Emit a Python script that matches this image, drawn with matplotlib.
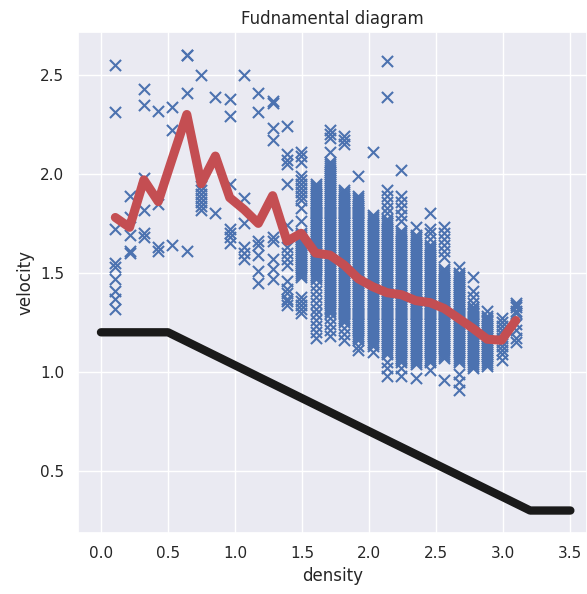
import matplotlib
matplotlib.use("Agg")
import matplotlib.pyplot as plt
import seaborn as sns

# --- datos ---
densidades = [0.107, 0.213, 0.320, 0.427, 0.533, 0.640, 0.747, 0.853, 0.960, 1.067,
              1.173, 1.280, 1.387, 1.493, 1.600, 1.707, 1.813, 1.920, 2.027, 2.133,
              2.240, 2.347, 2.453, 2.560, 2.667, 2.773, 2.880, 2.987, 3.093]

velocidad_media = [1.78, 1.73, 1.97, 1.86, 2.08, 2.30, 1.95, 2.09, 1.88, 1.82,
                   1.75, 1.89, 1.66, 1.70, 1.60, 1.59, 1.54, 1.47, 1.43, 1.40,
                   1.39, 1.36, 1.35, 1.32, 1.27, 1.22, 1.165, 1.16, 1.26]

# velocidades observadas por columna de densidad
v01 = [2.55, 2.31, 1.72, 1.55, 1.53, 1.47, 1.41, 1.37, 1.32]
v02 = [1.89, 1.78, 1.69, 1.61, 1.60]
v03 = [2.43, 2.35, 1.98, 1.82, 1.70, 1.68]
v04 = [2.32, 1.85, 1.63, 1.61]
v05 = [2.34, 2.22, 1.64]
v06 = [2.60, 2.60, 2.41, 1.61]
v07 = [2.50, 1.94, 1.92, 1.90, 1.88, 1.86, 1.84, 1.82]
v08 = [2.39, 1.80]
v09 = [2.38, 2.29, 1.95, 1.72, 1.70, 1.68, 1.65]
v10 = [2.50, 1.88, 1.75, 1.63, 1.60, 1.57]
v11 = [2.41, 2.31, 1.66, 1.64, 1.59, 1.51, 1.45]
v12 = [2.37, 2.36, 2.23, 2.17, 1.68, 1.66, 1.57, 1.52, 1.47]
v13 = [2.24, 2.10, 2.07, 2.05, 1.95, 1.74, 1.63, 1.60, 1.57, 1.54, 1.46, 1.42,
       1.40, 1.37, 1.36, 1.34]
v14 = [2.11, 2.09, 2.06, 1.99, 1.97, 1.95, 1.93, 1.91, 1.89, 1.87, 1.83, 1.76,
       1.70, 1.69, 1.68, 1.67, 1.66, 1.65, 1.64, 1.63, 1.62, 1.61, 1.60, 1.59,
       1.58, 1.57, 1.56, 1.55, 1.54, 1.53, 1.52, 1.51, 1.50, 1.49, 1.48,
       1.38, 1.36, 1.34, 1.32, 1.30]
v15 = [1.95, 1.94, 1.93, 1.92, 1.91, 1.90, 1.89, 1.88, 1.87, 1.86, 1.85, 1.84,
       1.83, 1.82, 1.81, 1.80, 1.79, 1.78, 1.77, 1.76, 1.75, 1.74, 1.73, 1.72,
       1.71, 1.70, 1.69, 1.68, 1.67, 1.66, 1.65, 1.64, 1.63, 1.62, 1.61, 1.60,
       1.59, 1.58, 1.57, 1.56, 1.55, 1.54, 1.53, 1.52, 1.51, 1.50, 1.49, 1.48,
       1.47, 1.44, 1.41, 1.38, 1.35, 1.32, 1.29, 1.26, 1.23, 1.20, 1.17]
v16 = [2.22, 2.20, 2.18, 2.11,
       2.06, 2.05, 2.04, 2.03, 2.02, 2.01, 2.00,
       1.99, 1.98, 1.97, 1.96, 1.95, 1.94, 1.93, 1.92, 1.91, 1.90,
       1.89, 1.88, 1.87, 1.86, 1.85, 1.84, 1.83, 1.82, 1.81, 1.80,
       1.79, 1.78, 1.77, 1.76, 1.75, 1.74, 1.73, 1.72, 1.71, 1.70,
       1.69, 1.68, 1.67, 1.66, 1.65, 1.64, 1.63, 1.62, 1.61, 1.60,
       1.59, 1.58, 1.57, 1.56, 1.55, 1.54, 1.53, 1.52, 1.51, 1.50,
       1.49, 1.48, 1.47, 1.46, 1.45, 1.44, 1.43, 1.42, 1.41, 1.40,
       1.39, 1.38, 1.37, 1.36, 1.35, 1.34, 1.33, 1.32, 1.31, 1.30,
       1.27, 1.24, 1.21, 1.18]
v17 = [2.19, 2.17, 2.15,
       1.92, 1.91, 1.90,
       1.89, 1.88, 1.87, 1.86, 1.85, 1.84, 1.83, 1.82, 1.81, 1.80,
       1.79, 1.78, 1.77, 1.76, 1.75, 1.74, 1.73, 1.72, 1.71, 1.70,
       1.69, 1.68, 1.67, 1.66, 1.65, 1.64, 1.63, 1.62, 1.61, 1.60,
       1.59, 1.58, 1.57, 1.56, 1.55, 1.54, 1.53, 1.52, 1.51, 1.50,
       1.49, 1.48, 1.47, 1.46, 1.45, 1.44, 1.43, 1.42, 1.41, 1.40,
       1.39, 1.38, 1.37, 1.36, 1.35, 1.34, 1.33, 1.32, 1.31, 1.30,
       1.29, 1.28, 1.27, 1.26, 1.25,
       1.22, 1.19, 1.16]
v18 = [1.99,
       1.89, 1.88, 1.87, 1.86, 1.85, 1.84, 1.83, 1.82, 1.81, 1.80,
       1.79, 1.78, 1.77, 1.76, 1.75, 1.74, 1.73, 1.72, 1.71, 1.70,
       1.69, 1.68, 1.67, 1.66, 1.65, 1.64, 1.63, 1.62, 1.61, 1.60,
       1.59, 1.58, 1.57, 1.56, 1.55, 1.54, 1.53, 1.52, 1.51, 1.50,
       1.49, 1.48, 1.47, 1.46, 1.45, 1.44, 1.43, 1.42, 1.41, 1.40,
       1.39, 1.38, 1.37, 1.36, 1.35, 1.34, 1.33, 1.32, 1.31, 1.30,
       1.29, 1.28, 1.27, 1.26, 1.25, 1.24, 1.23, 1.22, 1.21, 1.20,
       1.19, 1.18, 1.17, 1.16,
       1.13, 1.11]
v19 = [2.11,
       1.79, 1.78, 1.77, 1.76, 1.75, 1.74, 1.73, 1.72, 1.71, 1.70,
       1.69, 1.68, 1.67, 1.66, 1.65, 1.64, 1.63, 1.62, 1.61, 1.60,
       1.59, 1.58, 1.57, 1.56, 1.55, 1.54, 1.53, 1.52, 1.51, 1.50,
       1.49, 1.48, 1.47, 1.46, 1.45, 1.44, 1.43, 1.42, 1.41, 1.40,
       1.39, 1.38, 1.37, 1.36, 1.35, 1.34, 1.33, 1.32, 1.31, 1.30,
       1.29, 1.28, 1.27, 1.26, 1.25, 1.24, 1.23, 1.22, 1.21, 1.20,
       1.19, 1.18, 1.17, 1.16, 1.15, 1.14, 1.13,
       1.10]
v20 = [2.57, 2.39, 1.92, 1.89, 1.86, 1.83, 1.80,
       1.77, 1.76, 1.75, 1.74, 1.73, 1.72, 1.71, 1.70,
       1.69, 1.68, 1.67, 1.66, 1.65, 1.64, 1.63, 1.62, 1.61, 1.60,
       1.59, 1.58, 1.57, 1.56, 1.55, 1.54, 1.53, 1.52, 1.51, 1.50,
       1.49, 1.48, 1.47, 1.46, 1.45, 1.44, 1.43, 1.42, 1.41, 1.40,
       1.39, 1.38, 1.37, 1.36, 1.35, 1.34, 1.33, 1.32, 1.31, 1.30,
       1.29, 1.28, 1.27, 1.26, 1.25, 1.24, 1.23, 1.22, 1.21, 1.20,
       1.19, 1.18, 1.17, 1.16, 1.15, 1.14, 1.13, 1.12, 1.11, 1.10,
       1.09, 1.05, 1.02, 0.98]
v21 = [2.02, 1.89, 1.86, 1.83, 1.79, 1.76,
       1.71, 1.70,
       1.69, 1.68, 1.67, 1.66, 1.65, 1.64, 1.63, 1.62, 1.61, 1.60,
       1.59, 1.58, 1.57, 1.56, 1.55, 1.54, 1.53, 1.52, 1.51, 1.50,
       1.49, 1.48, 1.47, 1.46, 1.45, 1.44, 1.43, 1.42, 1.41, 1.40,
       1.39, 1.38, 1.37, 1.36, 1.35, 1.34, 1.33, 1.32, 1.31, 1.30,
       1.29, 1.28, 1.27, 1.26, 1.25, 1.24, 1.23, 1.22, 1.21, 1.20,
       1.19, 1.18, 1.17, 1.16, 1.15, 1.14, 1.13, 1.12, 1.11, 1.10,
       1.09, 1.08, 1.07, 1.06, 1.05,
       1.02, 0.98]
v22 = [1.73,
       1.69, 1.68, 1.67, 1.66, 1.65, 1.64, 1.63, 1.62, 1.61, 1.60,
       1.59, 1.58, 1.57, 1.56, 1.55, 1.54, 1.53, 1.52, 1.51, 1.50,
       1.49, 1.48, 1.47, 1.46, 1.45, 1.44, 1.43, 1.42, 1.41, 1.40,
       1.39, 1.38, 1.37, 1.36, 1.35, 1.34, 1.33, 1.32, 1.31, 1.30,
       1.29, 1.28, 1.27, 1.26, 1.25, 1.24, 1.23, 1.22, 1.21, 1.20,
       1.19, 1.18, 1.17, 1.16, 1.15, 1.14, 1.13, 1.12, 1.11, 1.10,
       1.09, 1.08, 1.07, 1.06, 1.05, 1.04,
       0.97]
v23 = [1.80, 1.72, 1.70, 1.67,
       1.64, 1.63, 1.62, 1.61, 1.60,
       1.59, 1.58, 1.57, 1.56, 1.55, 1.54, 1.53, 1.52, 1.51, 1.50,
       1.49, 1.48, 1.47, 1.46, 1.45, 1.44, 1.43, 1.42, 1.41, 1.40,
       1.39, 1.38, 1.37, 1.36, 1.35, 1.34, 1.33, 1.32, 1.31, 1.30,
       1.29, 1.28, 1.27, 1.26, 1.25, 1.24, 1.23, 1.22, 1.21, 1.20,
       1.19, 1.18, 1.17, 1.16, 1.15, 1.14, 1.13, 1.12, 1.11, 1.10,
       1.09, 1.08, 1.07, 1.06, 1.05,
       1.01]
v24 = [1.73, 1.70, 1.67, 1.64, 1.61, 1.58,
       1.52, 1.51, 1.50,
       1.49, 1.48, 1.47, 1.46, 1.45, 1.44, 1.43, 1.42, 1.41, 1.40,
       1.39, 1.38, 1.37, 1.36, 1.35, 1.34, 1.33, 1.32, 1.31, 1.30,
       1.29, 1.28, 1.27, 1.26, 1.25, 1.24, 1.23, 1.22, 1.21, 1.20,
       1.19, 1.18, 1.17, 1.16, 1.15, 1.14, 1.13, 1.12, 1.11, 1.10,
       1.09, 1.08, 1.07,
       0.96]
v25 = [1.53,
       1.50,
       1.49, 1.48, 1.47, 1.46, 1.45, 1.44, 1.43, 1.42, 1.41, 1.40,
       1.39, 1.38, 1.37, 1.36, 1.35, 1.34, 1.33, 1.32, 1.31, 1.30,
       1.29, 1.28, 1.27, 1.26, 1.25, 1.24, 1.23, 1.22, 1.21, 1.20,
       1.19, 1.18, 1.17, 1.16, 1.15, 1.14, 1.13, 1.12, 1.11, 1.10,
       1.09, 1.08, 1.07, 1.06, 1.05,
       0.99, 0.95, 0.91]
v26 = [1.48, 1.41, 1.38, 1.35,
       1.33, 1.32, 1.31, 1.30,
       1.29, 1.28, 1.27, 1.26, 1.25, 1.24, 1.23, 1.22, 1.21, 1.20,
       1.19, 1.18, 1.17, 1.16, 1.15, 1.14, 1.13, 1.12, 1.11, 1.10,
       1.09, 1.08, 1.07, 1.06, 1.05, 1.04, 1.03, 1.02]
v27 = [1.31,
       1.28, 1.27, 1.26, 1.25, 1.24, 1.23, 1.22, 1.21, 1.20,
       1.19, 1.18, 1.17, 1.16, 1.15, 1.14, 1.13, 1.12, 1.11, 1.10,
       1.09, 1.08, 1.07, 1.06, 1.05, 1.04, 1.03]
v28 = [1.27, 1.25, 1.23, 1.21, 1.19, 1.17, 1.15, 1.13, 1.11, 1.09, 1.06]
v29 = [1.35, 1.34, 1.33, 1.31, 1.30, 1.24, 1.21, 1.17, 1.15]

columnas = [v01, v02, v03, v04, v05, v06, v07, v08, v09, v10, v11, v12, v13, v14,
            v15, v16, v17, v18, v19, v20, v21, v22, v23, v24, v25, v26, v27, v28, v29]

# diagrama fundamental teorico
rho_teorico = [0.0, 0.5, 3.2, 3.5]
v_teorico = [1.2, 1.2, 0.3, 0.3]

# --- grafico ---
sns.set()

xs = []
ys = []
for d, col in zip(densidades, columnas):
    for v in col:
        xs.append(d)
        ys.append(v)

fig = plt.figure(figsize=(5.87, 5.94), dpi=100)
ax = fig.add_axes([77.5 / 587, 60.7 / 594, 509.5 / 587, 501 / 594])

ax.scatter(xs, ys, marker="x", s=64, linewidths=1.5, color="#4C72B0")
ax.plot(densidades, velocidad_media, color="#C44E52", linewidth=6.5)
ax.plot(rho_teorico, v_teorico, color="#1a1a1a", linewidth=6)

ax.set_xlim(-0.175, 3.624)
ax.set_ylim(0.185, 2.715)
ax.set_title("Fudnamental diagram")
ax.set_xlabel("density")
ax.set_ylabel("velocity")

fig.savefig("out.png", dpi=100)
